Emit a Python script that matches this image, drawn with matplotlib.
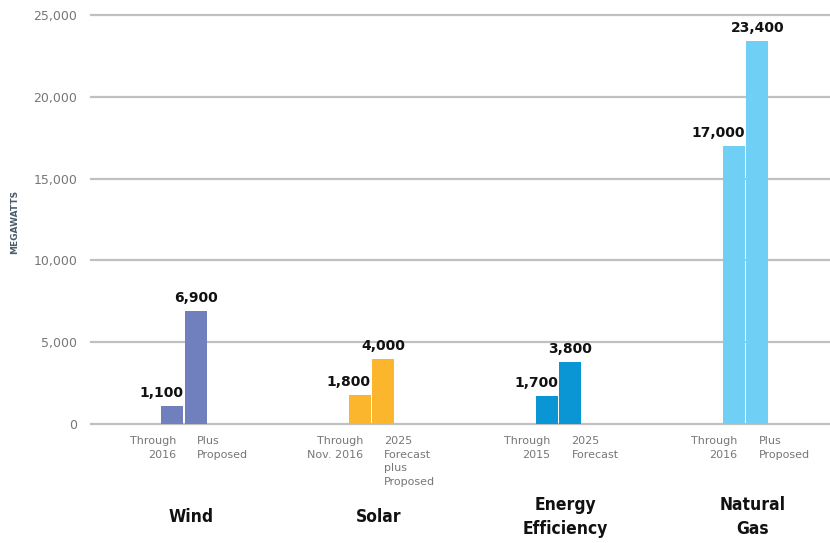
import matplotlib
matplotlib.use("Agg")
import matplotlib.pyplot as plt
from matplotlib.ticker import FuncFormatter
from matplotlib import font_manager

categories = ["Wind", "Solar", "Energy\nEfficiency", "Natural\nGas"]
first_values = [1100, 1800, 1700, 17000]
second_values = [6900, 4000, 3800, 23400]
first_labels = ["Through\n2016", "Through\nNov. 2016", "Through\n2015", "Through\n2016"]
second_labels = ["Plus\nProposed", "2025\nForecast\nplus\nProposed", "2025\nForecast", "Plus\nProposed"]
colors = ["#7080bf", "#fbb62e", "#0a95d4", "#6fcff5"]
yticks = [0, 5000, 10000, 15000, 20000, 25000]

names = {f.name for f in font_manager.fontManager.ttflist}
CAT_FAMILY = "DejaVu Sans"
CAT_STRETCH = "normal"
CAT_SIZE = 10.5
for cand in ["Liberation Sans Narrow", "DejaVu Sans Condensed"]:
    if cand in names:
        CAT_FAMILY = cand
        CAT_SIZE = 12.5 if cand == "DejaVu Sans Condensed" else 14
        break
else:
    if any(f.name == "DejaVu Sans" and f.stretch == "condensed" for f in font_manager.fontManager.ttflist):
        CAT_STRETCH = "condensed"
        CAT_SIZE = 12.5

fig = plt.figure(figsize=(8.30, 5.43), dpi=100)
ax = fig.add_axes([91/830, 1 - 424/543, 1 - 91/830, (424 - 15)/543])

w = 0.117
off1, off2 = -0.062, 0.062
x = list(range(len(categories)))
for i in x:
    ax.bar(i + off1, first_values[i], width=w, color=colors[i], zorder=3)
    ax.bar(i + off2, second_values[i], width=w, color=colors[i], zorder=3)
    ax.annotate(f"{first_values[i]:,}", xy=(i + off1 + w/2, first_values[i]),
                xytext=(0, 6), textcoords="offset pixels", ha="right", va="bottom",
                fontsize=10, fontweight="bold", color="#111111")
    ax.annotate(f"{second_values[i]:,}", xy=(i + off2, second_values[i]),
                xytext=(0, 6), textcoords="offset pixels", ha="center", va="bottom",
                fontsize=10, fontweight="bold", color="#111111")
    ax.annotate(first_labels[i], xy=(i, 0), xytext=(-8, -12), textcoords="offset pixels",
                ha="right", va="top", fontsize=8, color="#777777", linespacing=1.45,
                multialignment="right")
    ax.annotate(second_labels[i], xy=(i, 0), xytext=(13, -12), textcoords="offset pixels",
                ha="left", va="top", fontsize=8, color="#777777", linespacing=1.45,
                multialignment="left")
    ax.annotate(categories[i], xy=(i, 0), xytext=(7, -93), textcoords="offset pixels",
                ha="center", va="center", fontsize=CAT_SIZE, fontweight="bold", color="#111111",
                family=CAT_FAMILY, fontstretch=CAT_STRETCH, linespacing=1.5,
                multialignment="center")

ax.set_xlim(-0.497, 3.45)
ax.set_ylim(0, 25000)
ax.set_yticks(yticks)
ax.yaxis.set_major_formatter(FuncFormatter(lambda v, p: f"{int(v):,}"))
ax.tick_params(axis="y", length=0, pad=10, labelsize=9, labelcolor="#777777")
ax.set_xticks([])
for s in ax.spines.values():
    s.set_visible(False)
ax.grid(axis="y", color="#c0c0c0", linewidth=1.6, zorder=0)
ax.set_axisbelow(True)
for gl in ax.get_ygridlines():
    gl.set_clip_on(False)

fig.text(15/830, 1 - 222/543, "MEGAWATTS", rotation=90, ha="center", va="center",
         fontsize=6.5, fontweight="bold", color="#4a5c6c")

fig.savefig("out.png", dpi=100)
